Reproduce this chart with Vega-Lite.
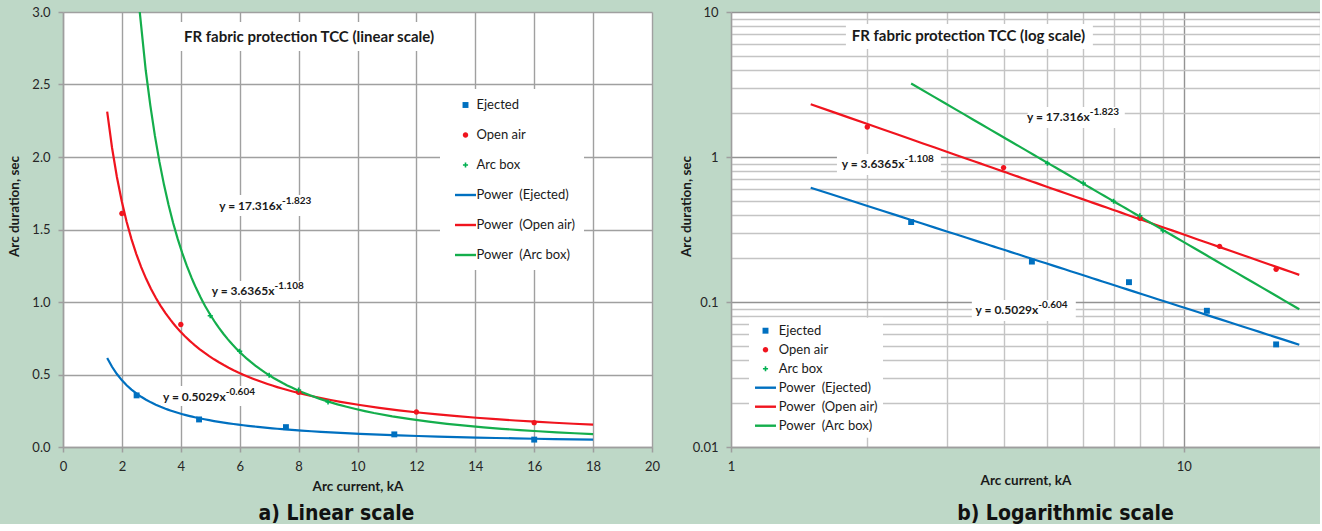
{
  "$schema": "https://vega.github.io/schema/vega-lite/v6.json",
  "background": "#bed8c7",
  "padding": {"left": 7, "top": 6, "right": 0, "bottom": 0},
  "spacing": 19,
  "config": {
    "font": "Lato",
    "view": {"stroke": null, "fill": "white"},
    "axis": {
      "labelFont": "Lato", "labelFontSize": 13, "labelColor": "#262626",
      "titleFont": "Lato", "titleFontSize": 13.5, "titleFontWeight": "bold", "titleColor": "#1a1a1a",
      "domainColor": "#9e9e9e", "domainWidth": 1.5,
      "tickColor": "#9e9e9e", "tickWidth": 1.5, "tickSize": 5,
      "gridColor": "#a0a0a0", "gridWidth": 1.4,
      "labelPadding": 8, "labelFlush": false, "labelOverlap": false
    },
    "legend": {"labelFont": "Lato", "labelFontSize": 13, "labelColor": "#1a1a1a", "labelLimit": 300},
    "title": {"font": "Liberation Sans Narrow, DejaVu Sans Condensed, sans-serif", "fontSize": 21, "fontWeight": "bold", "color": "#111111"}
  },
  "datasets": {
    "obs": [
      {"x": 2.5, "y": 0.356, "series": "Ejected"},
      {"x": 4.62, "y": 0.19, "series": "Ejected"},
      {"x": 7.57, "y": 0.137, "series": "Ejected"},
      {"x": 11.25, "y": 0.087, "series": "Ejected"},
      {"x": 16, "y": 0.051, "series": "Ejected"},
      {"x": 2, "y": 1.61, "series": "Open air"},
      {"x": 4, "y": 0.845, "series": "Open air"},
      {"x": 8, "y": 0.378, "series": "Open air"},
      {"x": 12, "y": 0.242, "series": "Open air"},
      {"x": 16, "y": 0.168, "series": "Open air"},
      {"x": 5, "y": 0.905, "series": "Arc box"},
      {"x": 6, "y": 0.66, "series": "Arc box"},
      {"x": 7, "y": 0.495, "series": "Arc box"},
      {"x": 8, "y": 0.393, "series": "Arc box"},
      {"x": 9, "y": 0.31, "series": "Arc box"}
    ]
  },
  "resolve": {"scale": {"color": "independent", "shape": "independent"}, "legend": {"color": "independent", "shape": "independent"}},
  "hconcat": [
    {
      "width": 589, "height": 435,
      "title": {"text": "a) Linear scale", "orient": "bottom", "anchor": "middle", "frame": "group", "dx": -21, "offset": 10},
      "data": {"name": "obs"},
      "encoding": {
        "x": {"field": "x", "type": "quantitative", "scale": {"domain": [0, 20], "nice": false, "zero": false},
              "axis": {"title": "Arc current, kA", "values": [0, 2, 4, 6, 8, 10, 12, 14, 16, 18, 20], "titleY": 39, "titleBaseline": "middle"}},
        "y": {"field": "y", "type": "quantitative", "scale": {"domain": [0, 3], "nice": false, "zero": false},
              "axis": {"title": "Arc duration, sec", "values": [0, 0.5, 1, 1.5, 2, 2.5, 3], "format": ".1f", "titleX": -49, "titleY": 194, "titleBaseline": "middle", "titleAngle": -90}}
      },
      "layer": [
        {"transform": [{"filter": "datum.x === 2.5"}], "mark": {"type": "rect", "fill": "white"}, "encoding": {"x": {"datum": 3.84}, "x2": {"datum": 12.87}, "y": {"datum": 2.731}, "y2": {"datum": 2.931}}},
        {"transform": [{"filter": "datum.x === 2.5"}], "mark": {"type": "rect", "fill": "white"}, "encoding": {"x": {"datum": 5.13}, "x2": {"datum": 8.63}, "y": {"datum": 1.593}, "y2": {"datum": 1.738}}},
        {"transform": [{"filter": "datum.x === 2.5"}], "mark": {"type": "rect", "fill": "white"}, "encoding": {"x": {"datum": 4.85}, "x2": {"datum": 8.35}, "y": {"datum": 1.014}, "y2": {"datum": 1.145}}},
        {"transform": [{"filter": "datum.x === 2.5"}], "mark": {"type": "rect", "fill": "white"}, "encoding": {"x": {"datum": 3.16}, "x2": {"datum": 6.66}, "y": {"datum": 0.283}, "y2": {"datum": 0.421}}},
        {"transform": [{"filter": "datum.series === 'Ejected'"}, {"regression": "y", "on": "x", "method": "pow", "extent": [1.5, 18]}],
         "mark": {"type": "line", "strokeWidth": 2.2, "clip": true, "color": "#0070c0"}, "encoding": {}},
        {"transform": [{"filter": "datum.series === 'Open air'"}, {"regression": "y", "on": "x", "method": "pow", "extent": [1.5, 18]}],
         "mark": {"type": "line", "strokeWidth": 2.2, "clip": true, "color": "#f0141e"}, "encoding": {}},
        {"transform": [{"filter": "datum.series === 'Arc box'"}, {"regression": "y", "on": "x", "method": "pow", "extent": [2.5, 18]}],
         "mark": {"type": "line", "strokeWidth": 2.2, "clip": true, "color": "#14ae4c"}, "encoding": {}},
        {
          "mark": {"type": "point", "filled": true, "opacity": 1, "size": 256, "strokeWidth": 0},
          "encoding": {
            "shape": {"field": "series", "type": "nominal",
              "scale": {"domain": ["Ejected", "Open air", "Arc box", "Power\u00a0 (Ejected)", "Power\u00a0 (Open air)", "Power\u00a0 (Arc box)"],
                        "range": ["M-0.37,-0.37H0.37V0.37H-0.37Z", "M-0.34,0A0.34,0.34,0,1,1,0.34,0A0.34,0.34,0,1,1,-0.34,0Z", "M-0.32,-0.1H-0.1V-0.32H0.1V-0.1H0.32V0.1H0.1V0.32H-0.1V0.1H-0.32Z", "M-1.31,-0.15H1.31V0.15H-1.31Z", "M-1.31,-0.15H1.31V0.15H-1.31Z", "M-1.31,-0.15H1.31V0.15H-1.31Z"]},
              "legend": {"title": null, "orient": "none", "legendX": 377, "legendY": 77, "fillColor": "white", "padding": 8, "rowPadding": 15, "symbolSize": 256, "symbolStrokeWidth": 0, "symbolOffset": 9.5, "labelOffset": 3}},
            "color": {"field": "series", "type": "nominal",
              "scale": {"domain": ["Ejected", "Open air", "Arc box", "Power\u00a0 (Ejected)", "Power\u00a0 (Open air)", "Power\u00a0 (Arc box)"],
                        "range": ["#0070c0", "#f0141e", "#00b050", "#0070c0", "#f0141e", "#14ae4c"]},
              "legend": {"title": null, "orient": "none", "legendX": 377, "legendY": 77, "fillColor": "white", "padding": 8, "rowPadding": 15, "symbolSize": 256, "symbolStrokeWidth": 0, "symbolOffset": 9.5, "labelOffset": 3}}
          }
        },
        {"transform": [{"filter": "datum.x === 2.5"}], "mark": {"type": "text", "text": "FR fabric protection TCC (linear scale)", "fontSize": 15, "fontWeight": "bold", "color": "#1a1a1a", "align": "center", "baseline": "middle"},
         "encoding": {"x": {"datum": 8.353}, "y": {"datum": 2.83}}},
        {"transform": [{"filter": "datum.x === 2.5"}], "mark": {"type": "text", "text": "y = 17.316x", "fontSize": 12, "fontWeight": "bold", "color": "#1a1a1a", "align": "right", "baseline": "middle"},
         "encoding": {"x": {"datum": 7.436}, "y": {"datum": 1.66}}},
        {"transform": [{"filter": "datum.x === 2.5"}], "mark": {"type": "text", "text": "-1.823", "fontSize": 10, "fontWeight": "bold", "color": "#1a1a1a", "align": "left", "baseline": "middle", "dy": -5},
         "encoding": {"x": {"datum": 7.436}, "y": {"datum": 1.66}}},
        {"transform": [{"filter": "datum.x === 2.5"}], "mark": {"type": "text", "text": "y = 3.6365x", "fontSize": 12, "fontWeight": "bold", "color": "#1a1a1a", "align": "right", "baseline": "middle"},
         "encoding": {"x": {"datum": 7.18}, "y": {"datum": 1.076}}},
        {"transform": [{"filter": "datum.x === 2.5"}], "mark": {"type": "text", "text": "-1.108", "fontSize": 10, "fontWeight": "bold", "color": "#1a1a1a", "align": "left", "baseline": "middle", "dy": -5},
         "encoding": {"x": {"datum": 7.18}, "y": {"datum": 1.076}}},
        {"transform": [{"filter": "datum.x === 2.5"}], "mark": {"type": "text", "text": "y = 0.5029x", "fontSize": 12, "fontWeight": "bold", "color": "#1a1a1a", "align": "right", "baseline": "middle"},
         "encoding": {"x": {"datum": 5.525}, "y": {"datum": 0.347}}},
        {"transform": [{"filter": "datum.x === 2.5"}], "mark": {"type": "text", "text": "-0.604", "fontSize": 10, "fontWeight": "bold", "color": "#1a1a1a", "align": "left", "baseline": "middle", "dy": -5},
         "encoding": {"x": {"datum": 5.525}, "y": {"datum": 0.347}}}
      ]
    },
    {
      "width": 589, "height": 435,
      "title": {"text": "b) Logarithmic scale", "orient": "bottom", "anchor": "middle", "frame": "group", "dx": 40, "offset": 16},
      "data": {"name": "obs"},
      "encoding": {
        "x": {"field": "x", "type": "quantitative", "scale": {"type": "log", "domain": [1, 20], "nice": false},
              "axis": {"title": "Arc current, kA", "values": [1, 2, 3, 4, 5, 6, 7, 8, 9, 10, 20],
                       "labelExpr": "datum.value == 1 ? '1' : datum.value == 10 ? '10' : ''",
                       "gridColor": {"condition": {"test": "datum.value == 10", "value": "#939393"}, "value": "#c4c4c4"},
                       "tickOpacity": {"condition": {"test": "datum.value == 1 || datum.value == 10", "value": 1}, "value": 0},
                       "titleY": 33, "titleBaseline": "middle"}},
        "y": {"field": "y", "type": "quantitative", "scale": {"type": "log", "domain": [0.01, 10], "nice": false},
              "axis": {"title": "Arc duration, sec",
                       "values": [0.01, 0.02, 0.03, 0.04, 0.05, 0.06, 0.07, 0.08, 0.09, 0.1, 0.2, 0.3, 0.4, 0.5, 0.6, 0.7, 0.8, 0.9, 1, 2, 3, 4, 5, 6, 7, 8, 9, 10],
                       "labelExpr": "datum.value == 0.01 ? '0.01' : datum.value == 0.1 ? '0.1' : datum.value == 1 ? '1' : datum.value == 10 ? '10' : ''",
                       "gridColor": {"condition": {"test": "datum.value == 0.01 || datum.value == 0.1 || datum.value == 1 || datum.value == 10", "value": "#939393"}, "value": "#c4c4c4"},
                       "tickOpacity": {"condition": {"test": "datum.value == 0.01 || datum.value == 0.1 || datum.value == 1 || datum.value == 10", "value": 1}, "value": 0},
                       "titleX": -45, "titleY": 194, "titleBaseline": "middle", "titleAngle": -90}}
      },
      "layer": [
        {"transform": [{"filter": "datum.x === 2.5"}], "mark": {"type": "rect", "fill": "white"}, "encoding": {"x": {"datum": 1.794}, "x2": {"datum": 6.30}, "y": {"datum": 5.56}, "y2": {"datum": 8.26}}},
        {"transform": [{"filter": "datum.x === 2.5"}], "mark": {"type": "rect", "fill": "white"}, "encoding": {"x": {"datum": 4.524}, "x2": {"datum": 7.41}, "y": {"datum": 1.585}, "y2": {"datum": 2.212}}},
        {"transform": [{"filter": "datum.x === 2.5"}], "mark": {"type": "rect", "fill": "white"}, "encoding": {"x": {"datum": 1.714}, "x2": {"datum": 2.908}, "y": {"datum": 0.751}, "y2": {"datum": 1.049}}},
        {"transform": [{"filter": "datum.x === 2.5"}], "mark": {"type": "rect", "fill": "white"}, "encoding": {"x": {"datum": 3.404}, "x2": {"datum": 5.776}, "y": {"datum": 0.074}, "y2": {"datum": 0.1033}}},
        {"transform": [{"filter": "datum.series === 'Ejected'"}, {"regression": "y", "on": "x", "method": "pow", "extent": [1.5, 18]}],
         "mark": {"type": "line", "strokeWidth": 2.2, "clip": true, "color": "#0070c0"}, "encoding": {}},
        {"transform": [{"filter": "datum.series === 'Open air'"}, {"regression": "y", "on": "x", "method": "pow", "extent": [1.5, 18]}],
         "mark": {"type": "line", "strokeWidth": 2.2, "clip": true, "color": "#f0141e"}, "encoding": {}},
        {"transform": [{"filter": "datum.series === 'Arc box'"}, {"regression": "y", "on": "x", "method": "pow", "extent": [2.5, 18]}],
         "mark": {"type": "line", "strokeWidth": 2.2, "clip": true, "color": "#14ae4c"}, "encoding": {}},
        {
          "mark": {"type": "point", "filled": true, "opacity": 1, "size": 256, "strokeWidth": 0},
          "encoding": {
            "shape": {"field": "series", "type": "nominal",
              "scale": {"domain": ["Ejected", "Open air", "Arc box", "Power\u00a0 (Ejected)", "Power\u00a0 (Open air)", "Power\u00a0 (Arc box)"],
                        "range": ["M-0.37,-0.37H0.37V0.37H-0.37Z", "M-0.34,0A0.34,0.34,0,1,1,0.34,0A0.34,0.34,0,1,1,-0.34,0Z", "M-0.32,-0.1H-0.1V-0.32H0.1V-0.1H0.32V0.1H0.1V0.32H-0.1V0.1H-0.32Z", "M-1.31,-0.15H1.31V0.15H-1.31Z", "M-1.31,-0.15H1.31V0.15H-1.31Z", "M-1.31,-0.15H1.31V0.15H-1.31Z"]},
              "legend": {"title": null, "orient": "none", "legendX": 18, "legendY": 305.7, "fillColor": "white", "padding": 5, "rowPadding": 4, "symbolSize": 256, "symbolStrokeWidth": 0, "symbolOffset": 3.5, "labelOffset": 5.3}},
            "color": {"field": "series", "type": "nominal",
              "scale": {"domain": ["Ejected", "Open air", "Arc box", "Power\u00a0 (Ejected)", "Power\u00a0 (Open air)", "Power\u00a0 (Arc box)"],
                        "range": ["#0070c0", "#f0141e", "#00b050", "#0070c0", "#f0141e", "#14ae4c"]},
              "legend": {"title": null, "orient": "none", "legendX": 18, "legendY": 305.7, "fillColor": "white", "padding": 5, "rowPadding": 4, "symbolSize": 256, "symbolStrokeWidth": 0, "symbolOffset": 3.5, "labelOffset": 5.3}}
          }
        },
        {"transform": [{"filter": "datum.x === 2.5"}], "mark": {"type": "text", "text": "FR fabric protection TCC (log scale)", "fontSize": 15, "fontWeight": "bold", "color": "#1a1a1a", "align": "center", "baseline": "middle"},
         "encoding": {"x": {"datum": 3.344}, "y": {"datum": 6.83}}},
        {"transform": [{"filter": "datum.x === 2.5"}], "mark": {"type": "text", "text": "y = 17.316x", "fontSize": 12, "fontWeight": "bold", "color": "#1a1a1a", "align": "right", "baseline": "middle"},
         "encoding": {"x": {"datum": 6.2}, "y": {"datum": 1.873}}},
        {"transform": [{"filter": "datum.x === 2.5"}], "mark": {"type": "text", "text": "-1.823", "fontSize": 10, "fontWeight": "bold", "color": "#1a1a1a", "align": "left", "baseline": "middle", "dy": -5},
         "encoding": {"x": {"datum": 6.2}, "y": {"datum": 1.873}}},
        {"transform": [{"filter": "datum.x === 2.5"}], "mark": {"type": "text", "text": "y = 3.6365x", "fontSize": 12, "fontWeight": "bold", "color": "#1a1a1a", "align": "right", "baseline": "middle"},
         "encoding": {"x": {"datum": 2.417}, "y": {"datum": 0.895}}},
        {"transform": [{"filter": "datum.x === 2.5"}], "mark": {"type": "text", "text": "-1.108", "fontSize": 10, "fontWeight": "bold", "color": "#1a1a1a", "align": "left", "baseline": "middle", "dy": -5},
         "encoding": {"x": {"datum": 2.417}, "y": {"datum": 0.895}}},
        {"transform": [{"filter": "datum.x === 2.5"}], "mark": {"type": "text", "text": "y = 0.5029x", "fontSize": 12, "fontWeight": "bold", "color": "#1a1a1a", "align": "right", "baseline": "middle"},
         "encoding": {"x": {"datum": 4.774}, "y": {"datum": 0.0881}}},
        {"transform": [{"filter": "datum.x === 2.5"}], "mark": {"type": "text", "text": "-0.604", "fontSize": 10, "fontWeight": "bold", "color": "#1a1a1a", "align": "left", "baseline": "middle", "dy": -5},
         "encoding": {"x": {"datum": 4.774}, "y": {"datum": 0.0881}}}
      ]
    }
  ]
}
